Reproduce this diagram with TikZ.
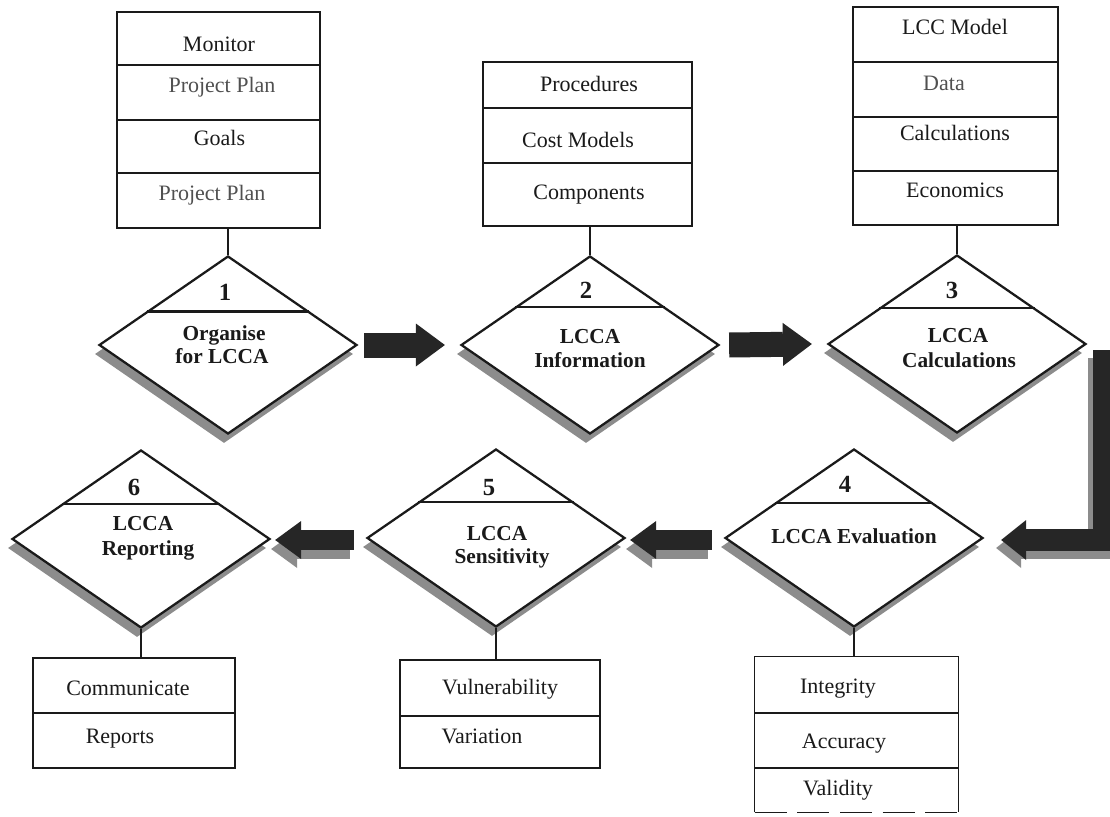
\documentclass[tikz,border=0pt]{standalone}
\usepackage{fontspec}
\setmainfont{Liberation Serif}
\usetikzlibrary{shapes.geometric,arrows.meta,calc}

\definecolor{ink}{HTML}{1A1A1A}
\definecolor{shade}{HTML}{8C8C8C}
\definecolor{blk}{HTML}{262626}
\definecolor{soft}{HTML}{505050}

\tikzset{
  stage/.style={diamond, draw=ink, line width=1.7pt, fill=white,
    minimum width=193.5pt, minimum height=133.5pt, inner sep=0pt},
  stageshadow/.style={diamond, fill=shade, draw=none,
    minimum width=193.5pt, minimum height=133.5pt, inner sep=0pt},
  itembox/.style={draw=ink, line width=1.1pt, inner sep=0pt, fill=white},
  itemtext/.style={anchor=base, inner sep=0pt, text=ink,
    font=\fontsize{16.5}{19}\selectfont},
  stagetext/.style={anchor=base, inner sep=0pt, text=ink,
    font=\bfseries\fontsize{16}{19}\selectfont},
  stagenum/.style={anchor=base, inner sep=0pt, text=ink,
    font=\bfseries\fontsize{18.5}{20}\selectfont},
  link/.style={draw=ink, line width=1pt},
  divider/.style={draw=ink, line width=1.1pt},
  headbar/.style={draw=ink, line width=2pt},
  flowbig/.style={draw=#1, line width=18.75pt,
    -{Triangle[length=21.75pt, width=32.25pt, line width=0pt]}},
  flowsmall/.style={draw=#1, line width=15pt,
    -{Triangle[length=19.5pt, width=28.5pt, line width=0pt]}},
  flowturn/.style={draw=#1, line width=16.5pt, line join=miter,
    -{Triangle[length=18.75pt, width=30pt, line width=0pt]}},
}

\begin{document}
\begin{tikzpicture}[x=0.75pt, y=-0.75pt]
\fill[white] (0,0) rectangle (1110,817);
\useasboundingbox (0,0) rectangle (1110,817);

% ---------- stage diamonds (shadow first) ----------
\node[stageshadow] (S1) at (224,354) {};
\node[stageshadow] (S2) at (586,354) {};
\node[stageshadow] (S3) at (953,353) {};
\node[stageshadow] (S4) at (850,547) {};
\node[stageshadow] (S5) at (492,547) {};
\node[stageshadow] (S6) at (137,548) {};

\node[stage] (D1) at (228,345) {};
\node[stage] (D2) at (590,345) {};
\node[stage] (D3) at (957,344) {};
\node[stage] (D4) at (854,538) {};
\node[stage] (D5) at (496,538) {};
\node[stage] (D6) at (141,539) {};

% header bars inside the diamonds
\foreach \d/\t in {D1/0.625, D2/0.58, D3/0.6, D4/0.61, D5/0.6, D6/0.61}{
  \draw[headbar] ($(\d.north)!\t!(\d.west)$) -- ($(\d.north)!\t!(\d.east)$);
}

% stage numbers
\node[stagenum] (n1) at (225,300) {1};
\node[stagenum] (n2) at (586,298) {2};
\node[stagenum] (n3) at (952,298) {3};
\node[stagenum] (n4) at (845,492) {4};
\node[stagenum] (n5) at (489,495) {5};
\node[stagenum] (n6) at (134,495) {6};

% stage titles
\node[stagetext] (l1a) at (224,340) {Organise};
\node[stagetext] (l1b) at (222,363) {for LCCA};
\node[stagetext] (l2a) at (590,343) {LCCA};
\node[stagetext] (l2b) at (590,367) {Information};
\node[stagetext] (l3a) at (958,342) {LCCA};
\node[stagetext] (l3b) at (959,367) {Calculations};
\node[stagetext] (l4a) at (854,543) {LCCA Evaluation};
\node[stagetext] (l5a) at (497,540) {LCCA};
\node[stagetext] (l5b) at (502,563) {Sensitivity};
\node[stagetext] (l6a) at (143,530) {LCCA};
\node[stagetext] (l6b) at (148,555) {Reporting};

% ---------- item boxes ----------
% stage 1
\node[itembox, minimum width=152.25pt, minimum height=162pt] (B1) at (218.5,120) {};
\foreach \y in {65,120,173}{\draw[divider] (B1.west |- 0,\y) -- (B1.east |- 0,\y);}
\node[itemtext] (t1a) at (219,52) {Monitor};
\node[itemtext, text=soft] (t1b) at (222,93) {Project Plan};
\node[itemtext] (t1c) at (219.5,145) {Goals};
\node[itemtext, text=soft] (t1d) at (212,200) {Project Plan};

% stage 2
\node[itembox, minimum width=156.75pt, minimum height=123pt] (B2) at (587.5,144) {};
\foreach \y in {108,163}{\draw[divider] (B2.west |- 0,\y) -- (B2.east |- 0,\y);}
\node[itemtext] (t2a) at (589,92) {Procedures};
\node[itemtext] (t2b) at (578,147) {Cost Models};
\node[itemtext] (t2c) at (589,199) {Components};

% stage 3
\node[itembox, minimum width=153.75pt, minimum height=163.5pt] (B3) at (955.5,116) {};
\foreach \y in {62,117,171}{\draw[divider] (B3.west |- 0,\y) -- (B3.east |- 0,\y);}
\node[itemtext] (t3a) at (955,35) {LCC Model};
\node[itemtext, text=soft] (t3b) at (944,90) {Data};
\node[itemtext] (t3c) at (955,140) {Calculations};
\node[itemtext] (t3d) at (955,197) {Economics};

% stage 4
\node[minimum width=152.25pt, minimum height=116.25pt, inner sep=0pt, fill=white] (B4) at (856.5,734.5) {};
\draw[divider] (B4.south west) -- (B4.north west) -- (B4.north east) -- (B4.south east);
\draw[divider, dash pattern=on 24pt off 8pt] (B4.south west) -- (B4.south east);
\foreach \y in {713,768}{\draw[divider] (B4.west |- 0,\y) -- (B4.east |- 0,\y);}
\node[itemtext] (t4a) at (838,693) {Integrity};
\node[itemtext] (t4b) at (844,748) {Accuracy};
\node[itemtext] (t4c) at (838,795) {Validity};

% stage 5
\node[itembox, minimum width=150pt, minimum height=81pt] (B5) at (500,714) {};
\draw[divider] (B5.west |- 0,716) -- (B5.east |- 0,716);
\node[itemtext] (t5a) at (500,694) {Vulnerability};
\node[itemtext] (t5b) at (482,743) {Variation};

% stage 6
\node[itembox, minimum width=151.5pt, minimum height=82.5pt] (B6) at (134,713) {};
\draw[divider] (B6.west |- 0,713) -- (B6.east |- 0,713);
\node[itemtext] (t6a) at (128,695) {Communicate};
\node[itemtext] (t6b) at (120,743) {Reports};

% ---------- box-to-stage links ----------
\draw[link] (D1.north) -- (D1.north |- B1.south);
\draw[link] (D2.north) -- (D2.north |- B2.south);
\draw[link] (D3.north) -- (D3.north |- B3.south);
\draw[link] (D4.south) -- (D4.south |- B4.north);
\draw[link] (D5.south) -- (D5.south |- B5.north);
\draw[link] (D6.south) -- (D6.south |- B6.north);

% ---------- flow arrows ----------
\draw[flowbig=blk] ($(D1.east)+(6,0)$) -- ($(D2.west)+(-15,0)$);
\draw[flowbig=blk] ($(D2.east)+(9,0)$) -- ($(D3.west)+(-15,0)$);

\coordinate (Ls) at ($(D3.east)+(17,6)$);
\coordinate (Le) at ($(D4.east)+(17,2)$);
\draw[flowturn=shade] ($(Ls)+(-5,8)$) |- ($(Le)+(-5,8)$);
\draw[flowturn=blk] (Ls) |- (Le);

\draw[flowsmall=shade] ($(D4.west)+(-16,11)$) -- ($(D5.east)+(0,11)$);
\draw[flowsmall=blk] ($(D4.west)+(-12,2)$) -- ($(D5.east)+(4,2)$);
\draw[flowsmall=shade] ($(D5.west)+(-16,11)$) -- ($(D6.east)+(0,10)$);
\draw[flowsmall=blk] ($(D5.west)+(-12,2)$) -- ($(D6.east)+(4,1)$);
\end{tikzpicture}
\end{document}
